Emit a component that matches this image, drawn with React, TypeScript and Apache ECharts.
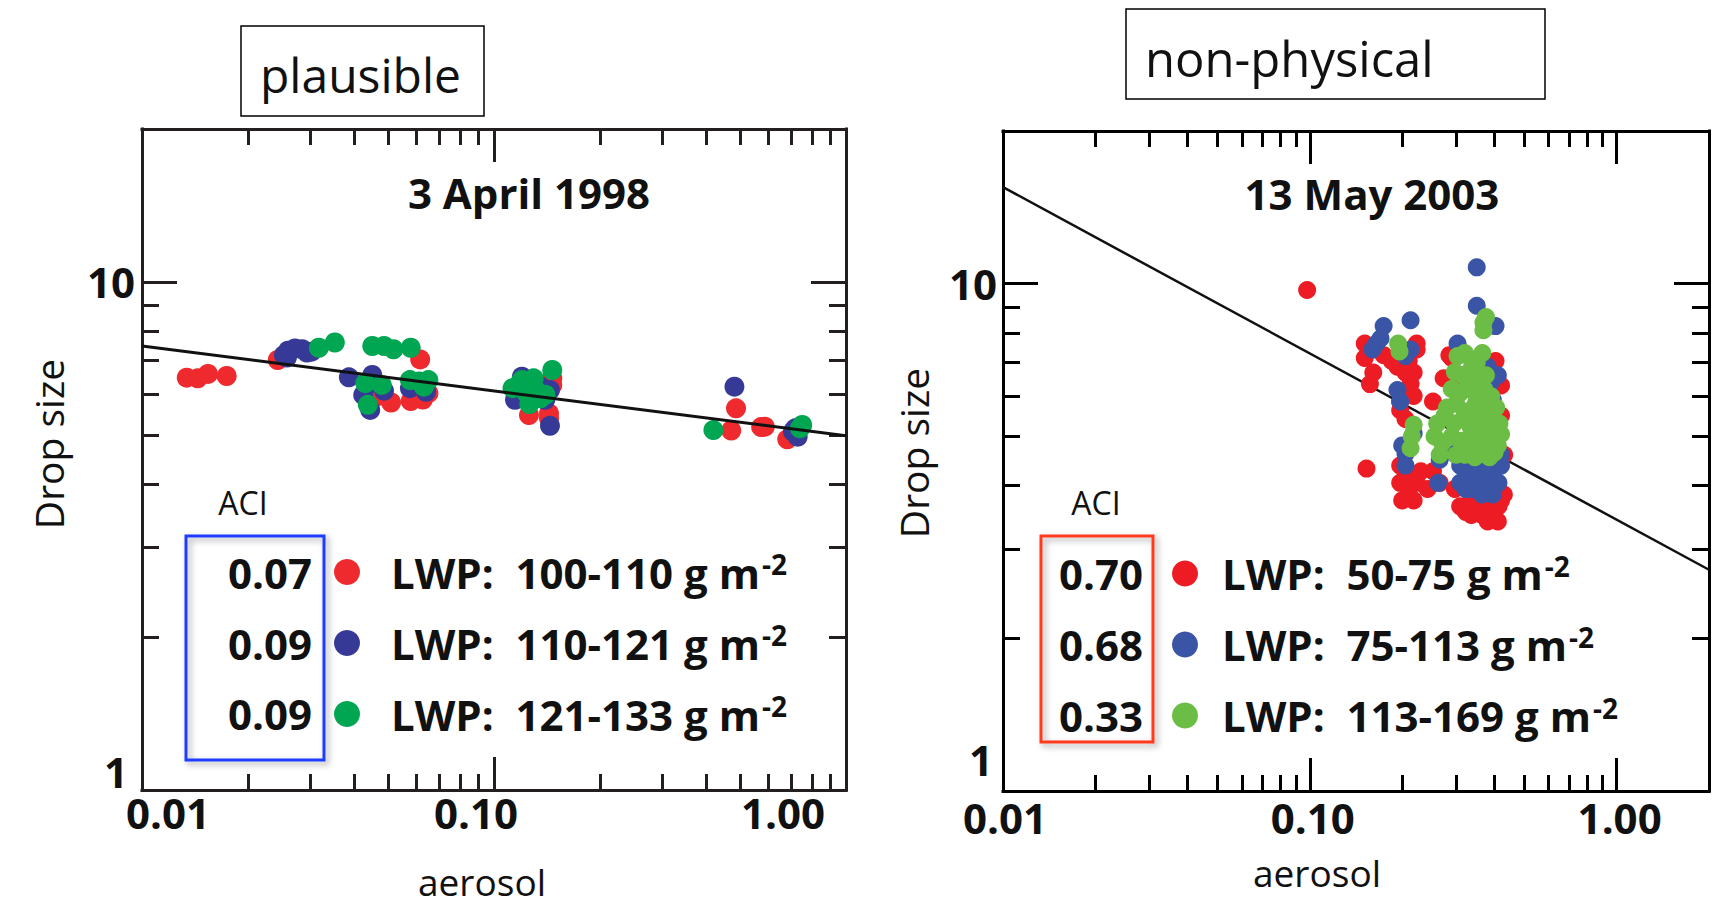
import React, { useEffect, useRef } from 'react';
import * as echarts from 'echarts';

const FONT = '"Open Sans", "Noto Sans", sans-serif';

// ---------- ticks ----------
const xMajorTicks = [0.01, 0.1, 1];
const xMinorTicksLeft = [0.02, 0.03, 0.04, 0.05, 0.06, 0.07, 0.08, 0.09, 0.2, 0.3, 0.4, 0.5, 0.6, 0.7, 0.8, 0.9];
const xMinorTicksRight = [0.02, 0.03, 0.04, 0.05, 0.06, 0.07, 0.08, 0.09, 0.2, 0.3, 0.4, 0.5, 0.6, 0.7, 0.8, 0.9, 2];
const xTickLabels = ['0.01', '0.10', '1.00'];
const yMajorTicks = [1, 10];
const yMinorTicks = [2, 3, 4, 5, 6, 7, 8, 9, 20];
const yTopLabelValues = [10];
const yTopLabels = ['10'];
const yBottomLabelValues = [1];
const yBottomLabels = ['1'];

// ---------- left panel ----------
const leftTag = 'plausible';
const leftDate = '3 April 1998';
const leftNames = ['LWP:  100-110 g m-2', 'LWP:  110-121 g m-2', 'LWP:  121-133 g m-2'];
const leftACI = ['0.07', '0.09', '0.09'];
const leftColors = ['#ee2a2e', '#363a96', '#00a651'];
const leftRed = [
  [0.0134, 6.48], [0.0144, 6.46], [0.0154, 6.59], [0.0174, 6.53],
  [0.0243, 7.02],
  [0.0463, 5.95], [0.051, 5.79],
  [0.058, 5.83], [0.0628, 5.87], [0.0651, 6.04], [0.0617, 7.04],
  [0.1464, 6.46], [0.1464, 6.27], [0.1257, 5.47], [0.1433, 5.51], [0.1433, 5.39],
  [0.487, 5.64], [0.472, 5.1], [0.588, 5.19], [0.574, 5.18], [0.681, 4.9],
];
const leftBlue = [
  [0.0253, 7.18], [0.026, 7.32], [0.0272, 7.4], [0.0285, 7.37], [0.0294, 7.26], [0.0303, 7.29], [0.0258, 7.1],
  [0.0387, 6.49],
  [0.0451, 6.56], [0.0425, 5.99], [0.0445, 5.6], [0.0487, 6.11], [0.044, 6.3],
  [0.0577, 6.18], [0.0641, 6.08], [0.0613, 6.27],
  [0.1147, 5.86], [0.12, 6.51], [0.1356, 6.22], [0.1442, 6.13], [0.1442, 5.21], [0.1398, 5.86],
  [0.482, 6.22],
  [0.707, 5.08], [0.729, 4.96], [0.718, 5.15],
];
const leftGreen = [
  [0.0318, 7.42], [0.0353, 7.6], [0.0451, 7.48], [0.0487, 7.48], [0.0518, 7.37], [0.058, 7.42],
  [0.0431, 6.32], [0.048, 6.27], [0.0438, 5.73],
  [0.0577, 6.41], [0.0613, 6.37], [0.0651, 6.41], [0.0632, 6.22],
  [0.1129, 6.18], [0.12, 6.41], [0.1296, 6.46], [0.1276, 5.86], [0.1356, 5.9], [0.1238, 6.04], [0.1464, 6.71],
  [0.118, 6.3], [0.132, 6.1], [0.14, 6.0], [0.126, 5.75],
  [0.42, 5.11], [0.74, 5.15], [0.751, 5.23],
];
const leftFit = [[0.01, 7.48], [1, 4.98]];

// ---------- right panel ----------
const rightTag = 'non-physical';
const rightDate = '13 May 2003';
const rightNames = ['LWP:  50-75 g m-2', 'LWP:  75-113 g m-2', 'LWP:  113-169 g m-2'];
const rightACI = ['0.70', '0.68', '0.33'];
const rightColors = ['#ed1c24', '#3a55a5', '#6cbd45'];
const rightRed = [
  [0.098, 9.72], [0.153, 4.32],
  [0.151, 7.62], [0.151, 7.14], [0.161, 6.68], [0.157, 6.34], [0.174, 7.23], [0.165, 7.42], [0.185, 7.04], [0.193, 6.86],
  [0.205, 6.68], [0.218, 6.68], [0.223, 7.62], [0.223, 7.42], [0.21, 7.04], [0.213, 6.34], [0.218, 6.01], [0.197, 5.86],
  [0.197, 5.63], [0.205, 5.41],
  [0.197, 4.38], [0.197, 4.05], [0.2, 3.74], [0.218, 3.74], [0.223, 4.05], [0.242, 3.94], [0.252, 4.27], [0.21, 3.84],
  [0.23, 4.27], [0.205, 4.16], [0.265, 4.05],
  [0.252, 5.86], [0.273, 6.51], [0.285, 7.23], [0.29, 7.14], [0.31, 6.6], [0.403, 7.04], [0.42, 6.3], [0.42, 5.5], [0.43, 4.6],
  [0.297, 3.94], [0.309, 3.64], [0.322, 3.55], [0.336, 3.5], [0.35, 3.64], [0.364, 3.5], [0.379, 3.55], [0.395, 3.5],
  [0.412, 3.64], [0.42, 3.74], [0.429, 3.84], [0.412, 3.94], [0.35, 3.84], [0.336, 3.74], [0.395, 3.74], [0.38, 3.4], [0.41, 3.4],
];
const rightBlue = [
  [0.35, 10.77], [0.35, 9.05],
  [0.174, 8.25], [0.165, 7.62], [0.16, 7.42], [0.17, 7.8], [0.213, 8.47], [0.213, 7.42], [0.205, 7.2], [0.193, 6.17],
  [0.197, 5.86], [0.205, 4.62], [0.205, 4.38], [0.218, 5.07], [0.2, 4.8],
  [0.303, 7.62], [0.38, 8.25], [0.403, 8.25], [0.38, 6.86], [0.387, 6.34], [0.395, 5.9], [0.41, 6.6], [0.262, 4.05], [0.265, 4.5],
  [0.297, 4.62], [0.309, 4.38], [0.322, 4.16], [0.336, 3.94], [0.35, 4.16], [0.364, 4.05], [0.379, 3.94], [0.395, 4.16],
  [0.412, 4.05], [0.42, 4.38], [0.35, 4.5], [0.38, 4.38], [0.322, 3.94], [0.395, 3.84], [0.364, 3.84], [0.336, 4.38],
  [0.42, 4.6], [0.309, 4.05],
];
const rightGreen = [
  [0.194, 7.62], [0.196, 7.35], [0.218, 5.27], [0.213, 4.74], [0.215, 5.0],
  [0.368, 8.39], [0.375, 8.6], [0.368, 8.1], [0.365, 7.3],
  [0.303, 7.2], [0.32, 7.3], [0.336, 7.1], [0.35, 7.0],
  [0.297, 6.7], [0.315, 6.6], [0.336, 6.8], [0.355, 6.5], [0.375, 6.6],
  [0.29, 6.2], [0.31, 6.1], [0.33, 6.3], [0.35, 6.0], [0.37, 6.2], [0.39, 6.0],
  [0.28, 5.7], [0.3, 5.8], [0.32, 5.6], [0.345, 5.75], [0.365, 5.6], [0.385, 5.8], [0.405, 5.7],
  [0.26, 5.3], [0.275, 5.5], [0.295, 5.3], [0.315, 5.4], [0.335, 5.2], [0.355, 5.35], [0.375, 5.2], [0.395, 5.4], [0.415, 5.3],
  [0.255, 5.0], [0.27, 4.85], [0.29, 5.0], [0.31, 4.9], [0.33, 4.8], [0.35, 4.95], [0.37, 4.85], [0.39, 4.95], [0.41, 4.8], [0.42, 5.05],
  [0.265, 4.6], [0.3, 4.6], [0.32, 4.6], [0.345, 4.55], [0.365, 4.62], [0.385, 4.55], [0.4, 4.65],
];
const rightFit = [[0.01, 15.5], [2, 2.73]];

// ---------- layout ----------
const GRIDS = [
  { left: 142, top: 129, width: 704, height: 661, xmax: 1, color: '#231f20' },
  { left: 1003, top: 131, width: 706, height: 660, xmax: 2, color: '#000000' },
];

function idxOf(arr: number[], v: number) {
  let best = 0;
  let bd = Infinity;
  arr.forEach((t, i) => {
    const d = Math.abs(Math.log10(v) - Math.log10(t));
    if (d < bd) { bd = d; best = i; }
  });
  return best;
}

const labelFont = { fontFamily: FONT, fontSize: 42, fontWeight: 'bold', color: '#111', lineHeight: 34 };

function buildXAxes(gi: number, xLabelPad: number[][], margin: number, nameGap: number, namePad: number[]) {
  const g = GRIDS[gi];
  const common: any = {
    type: 'log', logBase: 10, min: 0.01, max: g.xmax, gridIndex: gi,
    splitLine: { show: false }, minorTick: { show: false }, axisPointer: { show: false },
  };
  const line = { show: true, onZero: false, lineStyle: { color: g.color, width: 3, cap: 'square' } };
  const major = { show: true, inside: true, length: 33, customValues: xMajorTicks, lineStyle: { color: g.color, width: 3 } };
  const minor = { show: true, inside: true, length: 16, customValues: gi === 0 ? xMinorTicksLeft : xMinorTicksRight, lineStyle: { color: g.color, width: 3 } };
  const rich: any = {};
  xTickLabels.forEach((_, i) => {
    rich['t' + i] = { ...labelFont, padding: xLabelPad[i] };
  });
  return [
    {
      ...common, position: 'bottom', axisLine: line, axisTick: major,
      axisLabel: {
        show: true, customValues: xMajorTicks, margin, ...labelFont,
        formatter: (v: number) => { const i = idxOf(xMajorTicks, v); return '{t' + i + '|' + xTickLabels[i] + '}'; },
        rich,
      },
      name: 'aerosol', nameLocation: 'middle', nameGap,
      nameTextStyle: { fontFamily: FONT, fontSize: 37, color: '#111', padding: namePad },
    },
    { ...common, position: 'bottom', axisLine: { show: false }, axisTick: minor, axisLabel: { show: false } },
    { ...common, position: 'top', axisLine: line, axisTick: major, axisLabel: { show: false } },
    { ...common, position: 'top', axisLine: { show: false }, axisTick: minor, axisLabel: { show: false } },
  ];
}

function buildYAxes(gi: number, topMargin: number, bottomMargin: number, bottomLift: number, nameGap: number, namePad: number[]) {
  const g = GRIDS[gi];
  const common: any = {
    type: 'log', logBase: 10, min: 1, max: 20, gridIndex: gi,
    splitLine: { show: false }, minorTick: { show: false }, axisPointer: { show: false },
  };
  const line = { show: true, onZero: false, lineStyle: { color: g.color, width: 3, cap: 'square' } };
  const major = { show: true, inside: true, length: 35, customValues: yMajorTicks, lineStyle: { color: g.color, width: 3 } };
  const minor = { show: true, inside: true, length: 17, customValues: yMinorTicks, lineStyle: { color: g.color, width: 3 } };
  return [
    {
      ...common, position: 'left', axisLine: line, axisTick: major,
      axisLabel: {
        show: true, customValues: yTopLabelValues, margin: topMargin, ...labelFont,
        formatter: (v: number) => yTopLabels[idxOf(yTopLabelValues, v)],
      },
      name: 'Drop size', nameLocation: 'middle', nameGap, nameRotate: 90,
      nameTextStyle: { fontFamily: FONT, fontSize: 39, color: '#111', padding: namePad },
    },
    {
      ...common, position: 'left', axisLine: { show: false }, axisTick: minor,
      axisLabel: {
        show: true, customValues: yBottomLabelValues, margin: bottomMargin, ...labelFont, verticalAlign: 'bottom',
        padding: [0, 0, bottomLift, 0],
        formatter: (v: number) => yBottomLabels[idxOf(yBottomLabelValues, v)],
      },
    },
    { ...common, position: 'right', axisLine: line, axisTick: major, axisLabel: { show: false } },
    { ...common, position: 'right', axisLine: { show: false }, axisTick: minor, axisLabel: { show: false } },
  ];
}

function scatter(name: string, data: number[][], color: string, gi: number, size: number) {
  return {
    type: 'scatter', name, data, xAxisIndex: gi * 4, yAxisIndex: gi * 4,
    symbol: 'circle', symbolSize: size, itemStyle: { color, opacity: 1 },
    emphasis: { disabled: true }, z: 3,
  };
}

function fitLine(data: number[][], gi: number, z: number, width: number) {
  return {
    type: 'line', name: 'fit' + gi, data, xAxisIndex: gi * 4, yAxisIndex: gi * 4,
    showSymbol: false, symbol: 'none', lineStyle: { color: '#111', width }, z,
    emphasis: { disabled: true }, silent: true,
  };
}

function legendFor(names: string[], left: number, top: number, textPad: number) {
  return {
    show: true, data: names.map((n) => ({ name: n, icon: 'circle' })), left, top, orient: 'vertical',
    padding: 0, itemGap: 27, itemWidth: 26, itemHeight: 26, selectedMode: false,
    formatter: (n: string) => n.replace(/-2$/, '{sup|-2}'),
    textStyle: {
      fontFamily: FONT, fontSize: 42, fontWeight: 'bold', color: '#111', lineHeight: 44,
      padding: [0, 0, 0, textPad],
      rich: {
        sup: { fontFamily: FONT, fontSize: 28, fontWeight: 'bold', color: '#111', lineHeight: 44, verticalAlign: 'top', padding: [0, 0, 14, 2] },
      },
    },
  };
}

function txt(text: string, x: number, y: number, size: number, weight: string, align: string) {
  return {
    type: 'text', silent: true,
    style: {
      text, x, y, fill: '#111', font: weight + ' ' + size + 'px ' + FONT,
      align, verticalAlign: 'middle', textAlign: align, textVerticalAlign: 'middle',
    },
  };
}

function box(x: number, y: number, w: number, h: number, stroke: string, lw: number, shadow: boolean) {
  return {
    type: 'rect', silent: true,
    shape: { x, y, width: w, height: h },
    style: shadow
      ? { fill: 'rgba(255,255,255,0)', stroke, lineWidth: lw, shadowBlur: 6, shadowColor: 'rgba(0,0,0,0.35)', shadowOffsetX: 3, shadowOffsetY: 3 }
      : { fill: 'rgba(255,255,255,0)', stroke, lineWidth: lw },
  };
}

function buildOption() {
  const leftRows = [572, 643.5, 713.5];
  const rightRows = [573.5, 644.6, 715.7];
  return {
    animation: false,
    backgroundColor: '#ffffff',
    textStyle: { fontFamily: FONT },
    grid: GRIDS.map((g) => ({ left: g.left, top: g.top, width: g.width, height: g.height, containLabel: false, outerBoundsMode: 'none' })),
    xAxis: [
      ...buildXAxes(0, [[0, 0, 0, 52], [0, 36, 0, 0], [0, 126, 0, 0]], 5, 73, [0, 24, 0, 0]),
      ...buildXAxes(1, [[0, 0, 0, 4], [0, 0, 0, 6], [0, 0, 0, 6]], 9, 63, [0, 78, 0, 0]),
    ],
    yAxis: [
      ...buildYAxes(0, 7, 14, 2, 74, [0, 0, 0, 31]),
      ...buildYAxes(1, 6, 10, 15, 70, [0, 0, 0, 16]),
    ],
    legend: [legendFor(leftNames, 334, 550, 26), legendFor(rightNames, 1172, 551.5, 19)],
    series: [
      scatter(leftNames[0], leftRed, leftColors[0], 0, 20),
      scatter(leftNames[1], leftBlue, leftColors[1], 0, 20),
      scatter(leftNames[2], leftGreen, leftColors[2], 0, 20),
      fitLine(leftFit, 0, 5, 3),
      fitLine(rightFit, 1, 2, 2.5),
      scatter(rightNames[0], rightRed, rightColors[0], 1, 18),
      scatter(rightNames[1], rightBlue, rightColors[1], 1, 18),
      scatter(rightNames[2], rightGreen, rightColors[2], 1, 18),
    ],
    graphic: [
      box(241, 26, 243, 90, '#000', 1.5, false),
      txt(leftTag, 260, 74, 48, 'normal', 'left'),
      box(1126, 9, 419, 90, '#000', 1.5, false),
      txt(rightTag, 1145, 58, 49, 'normal', 'left'),
      txt(leftDate, 529, 192, 42, 'bold', 'center'),
      txt(rightDate, 1372, 193, 42, 'bold', 'center'),
      txt('ACI', 243, 502, 32, 'normal', 'center'),
      txt('ACI', 1096, 502, 32, 'normal', 'center'),
      box(186, 536, 138, 224, '#1f3cff', 3, true),
      box(1041, 536, 112, 206, '#ff3b1f', 3, true),
      ...leftACI.map((v, i) => txt(v, 312, leftRows[i], 42, 'bold', 'right')),
      ...rightACI.map((v, i) => txt(v, 1143, rightRows[i], 42, 'bold', 'right')),
    ],
  };
}

export default function App() {
  const ref = useRef<HTMLDivElement>(null);
  useEffect(() => {
    if (!ref.current) return;
    const chart = echarts.init(ref.current, undefined, { renderer: 'svg' });
    chart.setOption(buildOption() as any);
    return () => chart.dispose();
  }, []);
  return (
    <div
      ref={ref}
      style={{ position: 'fixed', left: 0, top: 0, width: '1716px', height: '913px', background: '#fff' }}
    />
  );
}
